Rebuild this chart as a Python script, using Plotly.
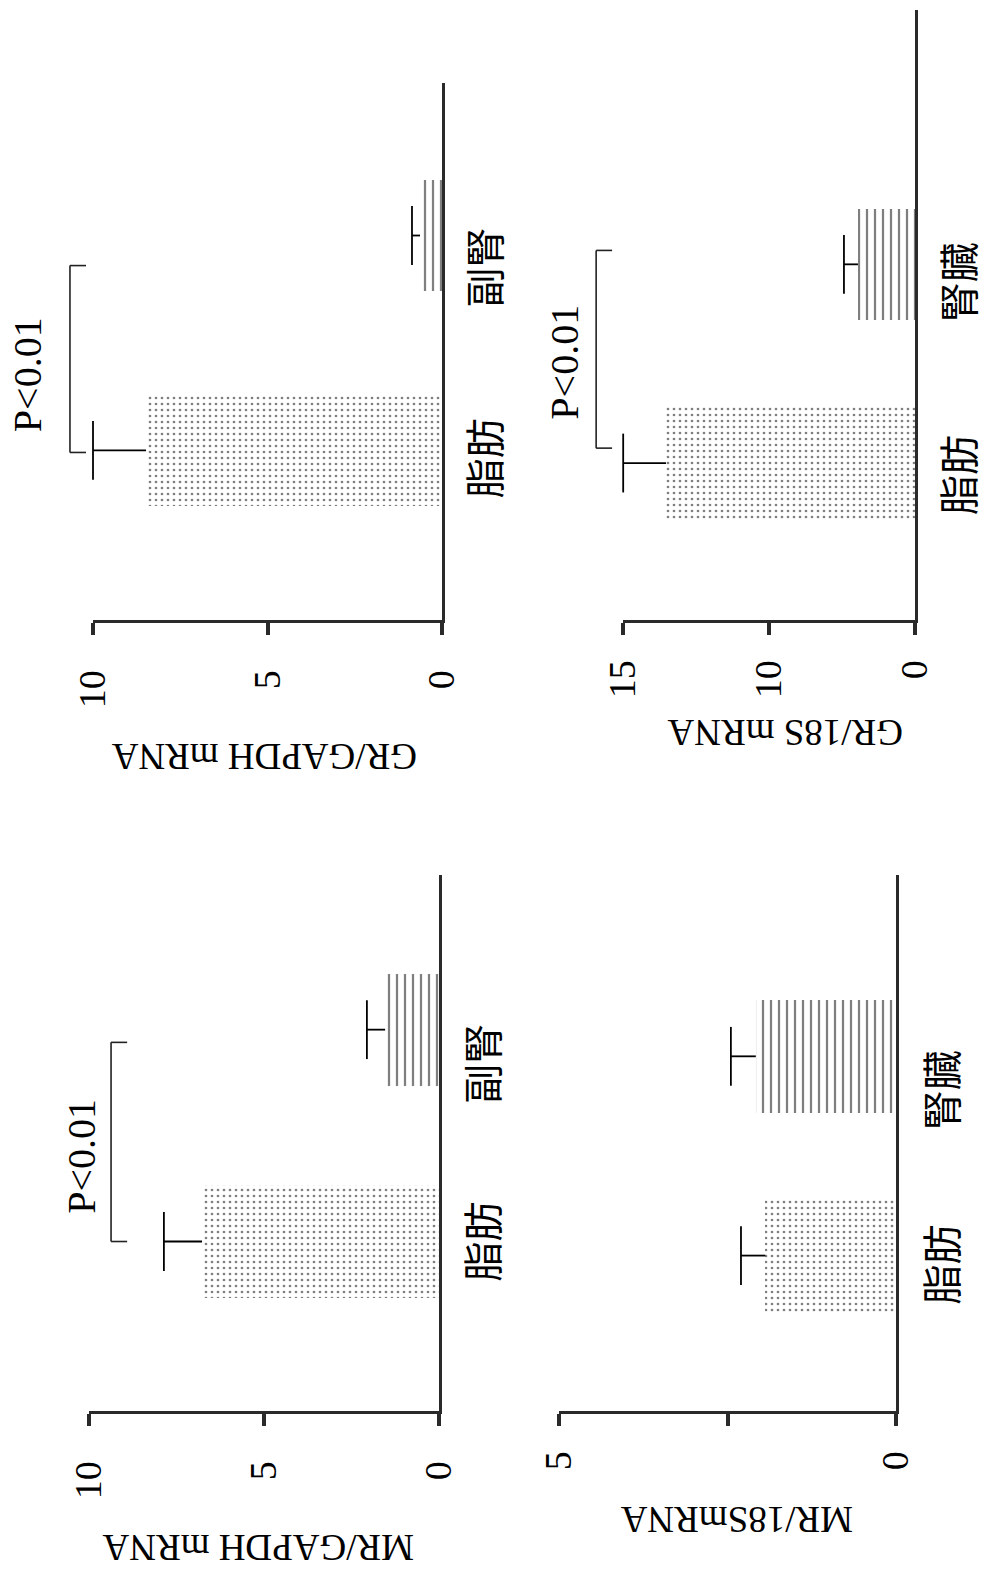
import plotly.graph_objects as go

W, H = 987, 1571

# ---------------- data ----------------
gr_gapdh_cats = ["脂肪", "副腎"]
gr_gapdh_vals = [8.48, 0.63]
gr_gapdh_err = [1.52, 0.23]
gr_gapdh_tickvals = [0, 5, 10]
gr_gapdh_ticktext = ["0", "5", "10"]

gr_18s_cats = ["脂肪", "腎臓"]
gr_18s_vals = [12.79, 2.93]
gr_18s_err = [2.2, 0.72]
gr_18s_tickvals = [0, 7.5, 15]
gr_18s_ticktext = ["0", "10", "15"]

mr_gapdh_cats = ["脂肪", "副腎"]
mr_gapdh_vals = [6.77, 1.54]
mr_gapdh_err = [1.09, 0.52]
mr_gapdh_tickvals = [0, 5, 10]
mr_gapdh_ticktext = ["0", "5", "10"]

mr_18s_cats = ["脂肪", "腎臓"]
mr_18s_vals = [1.94, 2.08]
mr_18s_err = [0.36, 0.37]
mr_18s_tickvals = [0, 2.5, 5]
mr_18s_ticktext = ["0", "", "5"]

titles = ["GR/GAPDH mRNA", "GR/18S mRNA", "MR/GAPDH mRNA", "MR/18SmRNA"]
p_label = "P<0.01"

# ---------------- layout configuration ----------------
panels = [
    dict(cats=gr_gapdh_cats, vals=gr_gapdh_vals, err=gr_gapdh_err,
         tv=gr_gapdh_tickvals, tt=gr_gapdh_ticktext, title=titles[0],
         xpx=(93, 442), ypx=(83, 620), yr=(-0.79, 1.71), bw=0.52,
         title_px=(264, 757), standoff=20, lab_shift=(-8, -32), lab_x=41,
         bracket=(10.66, 10.20, -0.01, 0.86), ptext=(11.89, 0.35)),
    dict(cats=gr_18s_cats, vals=gr_18s_vals, err=gr_18s_err,
         tv=gr_18s_tickvals, tt=gr_18s_ticktext, title=titles[1],
         xpx=(623, 915), ypx=(10, 620), yr=(-0.79, 2.28), bw=0.56,
         title_px=(785, 732), standoff=10, lab_shift=(-12, -18), lab_x=42,
         bracket=(16.38, 15.56, 0.075, 1.07), ptext=(17.98, 0.51)),
    dict(cats=mr_gapdh_cats, vals=mr_gapdh_vals, err=mr_gapdh_err,
         tv=mr_gapdh_tickvals, tt=mr_gapdh_ticktext, title=titles[2],
         xpx=(89, 439), ypx=(875, 1411), yr=(-0.80, 1.73), bw=0.53,
         title_px=(258, 1548), standoff=20, lab_shift=(0, -34), lab_x=42,
         bracket=(9.37, 8.91, 0.0, 0.94), ptext=(10.2, 0.40)),
    dict(cats=mr_18s_cats, vals=mr_18s_vals, err=mr_18s_err,
         tv=mr_18s_tickvals, tt=mr_18s_ticktext, title=titles[3],
         xpx=(559, 896), ypx=(875, 1411), yr=(-0.78, 1.91), bw=0.57,
         title_px=(737, 1520), standoff=10, lab_shift=(-9, -34), lab_x=44,
         bracket=None, ptext=None),
]

SERIF = "Liberation Serif, Times New Roman, serif"
CJK = "Noto Sans CJK JP, Noto Sans CJK SC, sans-serif"
AX = "#2a2a2a"

fig = go.Figure()
shapes = []
annotations = []
layout_axes = {}

for i, p in enumerate(panels):
    n = "" if i == 0 else str(i + 1)
    xa, ya = "x" + n, "y" + n
    R = max(p["tv"])

    fig.add_trace(go.Bar(
        x=p["vals"], y=p["cats"], orientation="h", xaxis=xa, yaxis=ya,
        width=p["bw"],
        marker=dict(color="white", line=dict(width=0),
                    pattern=dict(shape=[".", "|"], size=[6, 8],
                                 solidity=[0.16, 0.28],
                                 fgcolor="black", bgcolor="white")),
        hoverinfo="skip"))

    # error bar stems
    sx, sy = [], []
    for c, v, e in zip(p["cats"], p["vals"], p["err"]):
        sx += [v, v + e, None]
        sy += [c, c, None]
    fig.add_trace(go.Scatter(x=sx, y=sy, mode="lines", xaxis=xa, yaxis=ya,
                             line=dict(color="black", width=1.8),
                             hoverinfo="skip"))
    # error bar caps
    fig.add_trace(go.Scatter(
        x=[v + e for v, e in zip(p["vals"], p["err"])], y=p["cats"],
        mode="markers", xaxis=xa, yaxis=ya, cliponaxis=False,
        marker=dict(symbol="line-ns", size=42, color="black",
                    line=dict(color="black", width=1.8)),
        hoverinfo="skip"))

    layout_axes["xaxis" + n] = dict(
        domain=[p["xpx"][0] / W, p["xpx"][1] / W], anchor=ya,
        range=[R, 0], tickvals=p["tv"], ticktext=p["tt"], tickangle=-90,
        ticks="outside", ticklen=12, tickwidth=4, tickcolor=AX,
        ticklabelstandoff=p["standoff"], automargin=False,
        showline=True, linewidth=3, linecolor=AX,
        showgrid=False, zeroline=False,
        tickfont=dict(family=SERIF, size=38, color="black"))
    layout_axes["yaxis" + n] = dict(
        domain=[1 - p["ypx"][1] / H, 1 - p["ypx"][0] / H], anchor=xa,
        type="category", categoryorder="array", categoryarray=p["cats"],
        range=list(p["yr"]), side="right", automargin=False,
        showline=True, linewidth=3, linecolor=AX,
        ticks="", showticklabels=False,
        showgrid=False, zeroline=False)

    # category labels (rotated, to the right of the baseline)
    for c, dy in zip(p["cats"], p["lab_shift"]):
        annotations.append(dict(
            text=c, xref=xa + " domain", yref=ya, x=1, y=c,
            xanchor="center", yanchor="middle", xshift=p["lab_x"], yshift=dy,
            showarrow=False, textangle=-90,
            font=dict(family=CJK, size=40, color="black")))

    # axis title (upside down)
    annotations.append(dict(
        text=p["title"], xref="paper", yref="paper",
        x=p["title_px"][0] / W, y=1 - p["title_px"][1] / H,
        xanchor="center", yanchor="middle", showarrow=False, textangle=180,
        font=dict(family=SERIF, size=37, color="black")))

    if p["bracket"]:
        xv, xh, c0, c1 = p["bracket"]
        fv, fh = 1 - xv / R, 1 - xh / R
        ln = dict(color="#222", width=1.6)
        shapes += [
            dict(type="line", xref=xa + " domain", yref=ya,
                 x0=fv, x1=fv, y0=c0, y1=c1, line=ln),
            dict(type="line", xref=xa + " domain", yref=ya,
                 x0=fv, x1=fh, y0=c0, y1=c0, line=ln),
            dict(type="line", xref=xa + " domain", yref=ya,
                 x0=fv, x1=fh, y0=c1, y1=c1, line=ln),
        ]
    if p["ptext"]:
        px_, py_ = p["ptext"]
        annotations.append(dict(
            text=p_label, xref=xa + " domain", yref=ya,
            x=1 - px_ / R, y=py_, xanchor="center", yanchor="middle",
            showarrow=False, textangle=-90,
            font=dict(family=SERIF, size=40, color="black")))

fig.update_layout(
    width=W, height=H, margin=dict(l=0, r=0, t=0, b=0, autoexpand=False),
    paper_bgcolor="white", plot_bgcolor="white", showlegend=False,
    bargap=0, shapes=shapes, annotations=annotations, **layout_axes)

fig.write_html("out.html")
